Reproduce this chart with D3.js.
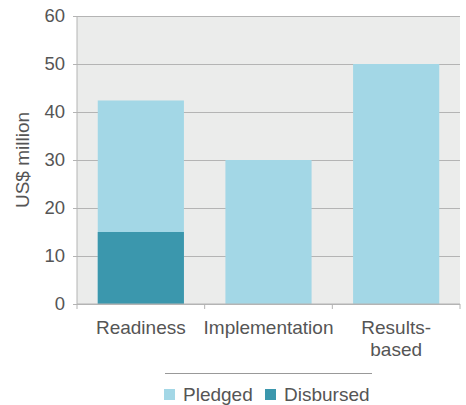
<!DOCTYPE html>
<html>
<head>
<meta charset="utf-8">
<script src="https://cdn.jsdelivr.net/npm/d3@7"></script>
<style>
  html, body { margin: 0; padding: 0; background: #fff; }
  svg { display: block; font-family: "Liberation Sans", Arial, Helvetica, sans-serif; }
</style>
</head>
<body>
<svg id="chart" width="466" height="405"></svg>
<script>
// Funding by phase, US$ million
const categories = ["Readiness", "Implementation", "Results-based"];
const categoryLines = [["Readiness"], ["Implementation"], ["Results-", "based"]];
const pledged = [42.4, 30, 50];
const disbursed = [15, 0, 0];
const yTicks = [0, 10, 20, 30, 40, 50, 60];
const seriesNames = ["Pledged", "Disbursed"];
const seriesColors = ["#a3d7e6", "#3b97ad"];

const svg = d3.select("#chart");
const margin = { left: 77, right: 6, top: 16, bottom: 101 };
const W = 466, H = 405;
const innerW = W - margin.left - margin.right;
const innerH = H - margin.top - margin.bottom;
const textColor = "#555";
const gridColor = "#b4b4b4";

const x = d3.scaleBand().domain(categories).range([0, innerW]).paddingInner(0.325).paddingOuter(0.1625);
const y = d3.scaleLinear().domain([0, 60]).range([innerH, 0]);

const g = svg.append("g").attr("transform", `translate(${margin.left},${margin.top})`);

// plot background
g.append("rect").attr("x", 0).attr("y", 0).attr("width", innerW).attr("height", innerH).attr("fill", "#ebeceb");

// y axis with gridlines
const yAxis = g.append("g").call(
  d3.axisLeft(y).tickValues(yTicks).tickSize(-innerW - 4).tickPadding(8).tickFormat(d3.format("d"))
);
yAxis.select(".domain").remove();
yAxis.selectAll(".tick line").attr("x1", -4).attr("x2", innerW).attr("stroke", gridColor);
yAxis.selectAll(".tick text").attr("x", -12).attr("fill", textColor).style("font-size", "18.5px");

// bars
const barG = g.append("g");
barG.selectAll("rect.pledged").data(categories).join("rect")
  .attr("class", "pledged")
  .attr("x", d => x(d))
  .attr("width", x.bandwidth())
  .attr("y", (d, i) => y(pledged[i]))
  .attr("height", (d, i) => y(0) - y(pledged[i]))
  .attr("fill", seriesColors[0]);
barG.selectAll("rect.disbursed").data(categories).join("rect")
  .attr("class", "disbursed")
  .attr("x", d => x(d))
  .attr("width", x.bandwidth())
  .attr("y", (d, i) => y(disbursed[i]))
  .attr("height", (d, i) => y(0) - y(disbursed[i]))
  .attr("fill", seriesColors[1]);

// left axis line
g.append("line").attr("x1", 0).attr("x2", 0).attr("y1", 0).attr("y2", innerH).attr("stroke", gridColor);

// bottom axis line and category boundary ticks
g.append("line").attr("x1", 0).attr("x2", innerW).attr("y1", innerH).attr("y2", innerH).attr("stroke", gridColor);
const step = x.step();
const bounds = d3.range(categories.length + 1).map(i => i === 0 ? 0 : (i === categories.length ? innerW : x(categories[i]) - x.paddingInner() * step / 2));
g.selectAll("line.bound").data(bounds).join("line")
  .attr("class", "bound")
  .attr("x1", d => d).attr("x2", d => d)
  .attr("y1", innerH).attr("y2", innerH + 5)
  .attr("stroke", gridColor);

// category labels
const lab = g.append("g");
categories.forEach((c, i) => {
  const t = lab.append("text")
    .attr("x", x(c) + x.bandwidth() / 2)
    .attr("y", innerH + 30)
    .attr("text-anchor", "middle")
    .attr("fill", textColor)
    .style("font-size", "19px");
  categoryLines[i].forEach((line, j) => {
    t.append("tspan").attr("x", x(c) + x.bandwidth() / 2).attr("dy", j === 0 ? 0 : 22).text(line);
  });
});

// y axis title
svg.append("text")
  .attr("transform", `translate(29,${margin.top + innerH / 2}) rotate(-90)`)
  .attr("text-anchor", "middle")
  .attr("fill", textColor)
  .style("font-size", "19px")
  .text("US$ million");

// legend separator
svg.append("line").attr("x1", 165).attr("x2", 372).attr("y1", 373.5).attr("y2", 373.5).attr("stroke", "#999");

// legend
const legendItems = [{ name: seriesNames[0], color: seriesColors[0], x: 164 }, { name: seriesNames[1], color: seriesColors[1], x: 265 }];
const lg = svg.append("g");
legendItems.forEach(it => {
  lg.append("rect").attr("x", it.x).attr("y", 389).attr("width", 11).attr("height", 11).attr("fill", it.color);
  lg.append("text").attr("x", it.x + 19).attr("y", 401).attr("fill", textColor).style("font-size", "19px").text(it.name);
});
</script>
</body>
</html>
